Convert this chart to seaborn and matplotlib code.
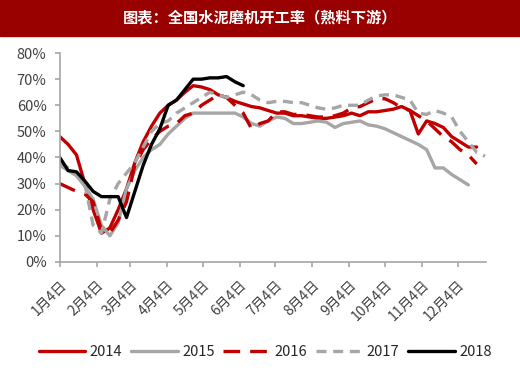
import matplotlib
matplotlib.use("Agg")
import matplotlib.pyplot as plt
import seaborn as sns
import pandas as pd

# weekly readings, week 0 = Jan 4
y2014 = [48, 45, 41, 30, 20, 11, 13, 20, 28, 38, 46, 52, 57, 60, 62, 65, 67.5, 67, 66, 64,
         63, 61.5, 60.5, 59.5, 59, 58, 57, 57, 56, 56, 55.5, 55, 55, 55.5, 56, 57, 56, 57.5,
         57.5, 58, 58.5, 59.5, 58, 49, 54, 53, 51.5, 48, 46, 44, 44]
y2015 = [37, 35, 33, 29, 24, 14, 10, 15, 28, 35, 40, 43, 45, 49, 52, 55, 57, 57, 57, 57,
         57, 57, 55.5, 53, 52, 54, 55.5, 55, 53, 53, 53.5, 54, 53.5, 51.5, 53, 53.5, 54, 52.5,
         52, 51, 49.5, 48, 46.5, 45, 43, 36, 36, 33.5, 31.5, 29.5]
y2016 = [30, 28.5, 27, 26, 23, 12, 11, 16, 23, 37, 43, 47, 50, 52, 53, 56, 57, 60, 62, 64,
         63, 60, 57, 51, 53, 54, 57.5, 57.5, 56.5, 56.5, 56, 55.5, 55.5, 56, 57, 59, 59.5, 61,
         62.5, 62.5, 61, 59, 58, 56, 54, 51, 48, 46, 43, 41, 37.5]
y2017 = [38, 36, 34, 30, 14, 11, 24, 30, 34, 38, 44, 50, 53, 54, 57, 59, 61, 63, 65, 64,
         63, 64, 65, 64, 62, 61, 61.5, 61.5, 61, 61, 60, 59, 58.5, 59, 60, 60, 60, 62,
         63.5, 64, 64, 63, 62, 57, 56.5, 58, 57, 55.5, 50, 46, 42, 40.5]
y2018 = [40, 35, 34.5, 31, 27, 25, 25, 25, 17, 27, 37, 45, 51, 60, 62, 66, 70, 70, 70.5, 70.5,
         71, 69, 67.5]

series = {"2014": y2014, "2015": y2015, "2016": y2016, "2017": y2017, "2018": y2018}
colors = {"2014": "#C00000", "2015": "#A6A6A6", "2016": "#C00000", "2017": "#A6A6A6", "2018": "#000000"}
styles = {"2014": "-", "2015": "-", "2016": (0, (5, 3)), "2017": (0, (3, 2)), "2018": "-"}

tick_days = [4, 35, 63, 94, 124, 155, 185, 216, 247, 277, 308, 338]
tick_labels = [f"{m}月4日" for m in range(1, 13)]

sns.set_theme(style="white")
plt.rcParams["font.family"] = ["Noto Sans CJK SC", "DejaVu Sans"]

fig = plt.figure(figsize=(5.2, 3.71), dpi=100)
ax = fig.add_axes([0.115, 0.294, 0.82, 0.563])

for name, vals in series.items():
    days = [4 + 7 * i for i in range(len(vals))]
    sns.lineplot(x=days, y=vals, ax=ax, color=colors[name], linestyle=styles[name],
                 linewidth=2.4, label=name, legend=False)

ax.set_xlim(4, 362)
ax.set_ylim(0, 80)
ax.set_yticks(range(0, 81, 10))
ax.set_yticklabels([f"{v}%" for v in range(0, 81, 10)], fontsize=10.5, color="#404040")
ax.set_xticks(tick_days)
ax.set_xticklabels(tick_labels, rotation=45, ha="right", rotation_mode="anchor",
                   fontsize=10, color="#404040")
for s in ["top", "right"]:
    ax.spines[s].set_visible(False)
for s in ["left", "bottom"]:
    ax.spines[s].set_color("#A6A6A6")
    ax.spines[s].set_linewidth(1.2)
ax.tick_params(axis="both", which="both", direction="out", length=3.5, width=1.2,
               color="#A6A6A6", left=True, bottom=True)
ax.tick_params(axis="y", pad=6)
ax.tick_params(axis="x", pad=8)
ax.set_xlabel("")
ax.set_ylabel("")

handles, labels = ax.get_legend_handles_labels()
fig.legend(handles, labels, loc="center", bbox_to_anchor=(0.51, 0.052), ncol=5, frameon=False,
           fontsize=10.5, handlelength=3.2, columnspacing=0.6, handletextpad=0.3,
           labelcolor="#262626")

# title band
fig.patches.append(matplotlib.patches.Rectangle((0, 0.903), 1, 0.097, transform=fig.transFigure,
                                                color="#990000", zorder=0))
fig.text(0.5, 0.952, "图表：全国水泥磨机开工率（熟料下游）", ha="center", va="center",
         color="white", fontsize=11, fontweight="bold")

fig.savefig("out.png", dpi=100)
